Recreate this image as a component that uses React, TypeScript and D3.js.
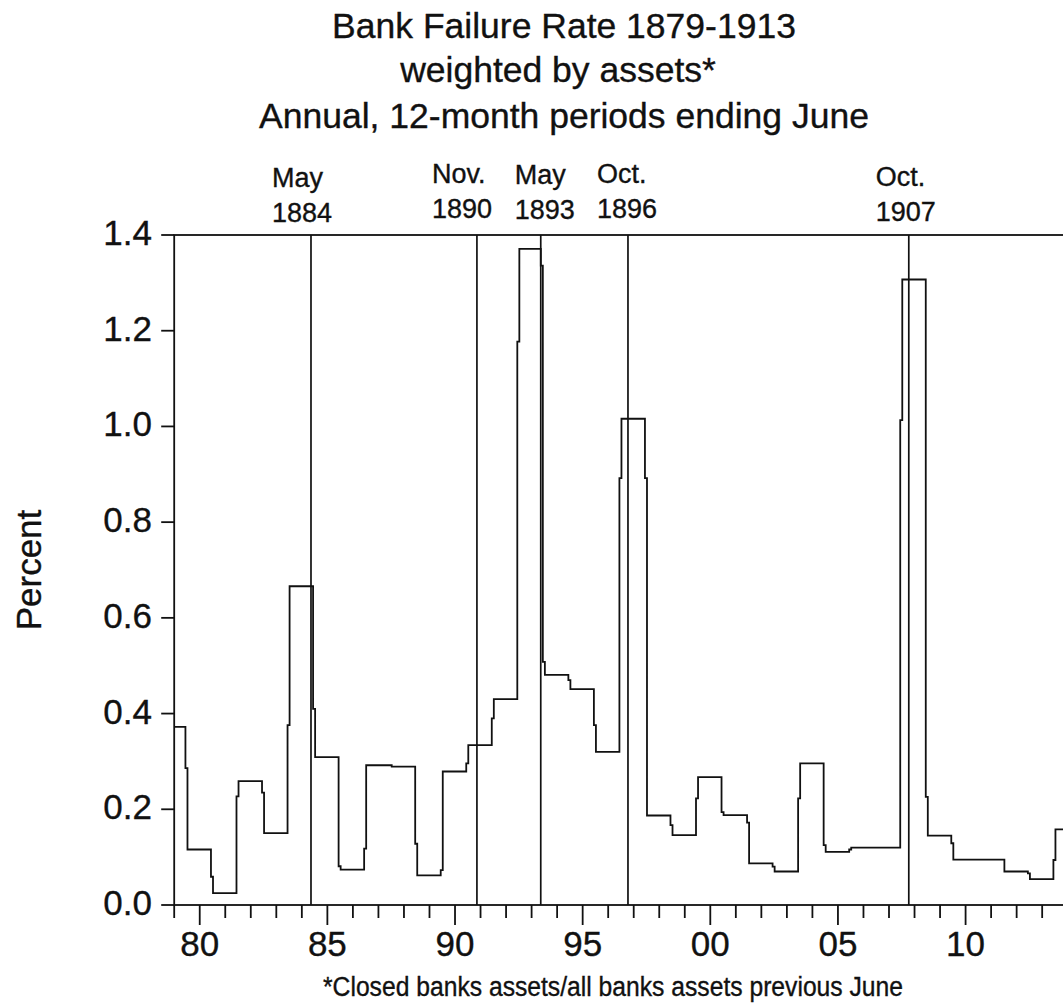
import React from 'react';
import * as d3 from 'd3';

// 12-month periods ending June of the given year
const periodEnd = [
  1879, 1880, 1881, 1882, 1883, 1884, 1885, 1886, 1887, 1888, 1889, 1890,
  1891, 1892, 1893, 1894, 1895, 1896, 1897, 1898, 1899, 1900, 1901, 1902,
  1903, 1904, 1905, 1906, 1907, 1908, 1909, 1910, 1911, 1912, 1913, 1914,
];
// failure rate, percent of assets
const rate = [
  0.372, 0.116, 0.025, 0.259, 0.15, 0.666, 0.309, 0.074, 0.292, 0.289, 0.062, 0.279,
  0.334, 0.43, 1.371, 0.481, 0.451, 0.32, 1.016, 0.187, 0.146, 0.267, 0.188, 0.087,
  0.07, 0.296, 0.111, 0.12, 0.12, 1.307, 0.145, 0.095, 0.095, 0.07, 0.054, 0.158,
];
// transition-month values seen just before each period begins
const transitionMonths: number[][] = [
  [], [0.286], [0.059], [0.227], [0.235], [0.376], [0.41], [0.081], [0.118], [], [0.128], [0.073],
  [0.296], [0.39], [1.177], [1.336, 0.508], [0.47], [0.376], [0.892], [0.892], [0.167], [0.223], [0.194], [0.172],
  [0.08], [0.223], [0.125], [0.116], [], [1.013], [0.226], [0.129], [], [], [0.066], [0.094],
];

const eventYear = [1884, 1890, 1893, 1896, 1907];
const eventMonth = [5, 11, 5, 10, 10];
const eventLabel = ['May', 'Nov.', 'May', 'Oct.', 'Oct.'];

const yTicks = [0, 0.2, 0.4, 0.6, 0.8, 1.0, 1.2, 1.4];
const xDomain = [1879, 1914];

const titleLines = [
  'Bank Failure Rate 1879-1913',
  'weighted by assets*',
  'Annual, 12-month periods ending June',
];
const yAxisTitle = 'Percent';
const footnote = '*Closed banks assets/all banks assets previous June';

// presentation nudges for the event labels
const labelDx = [-39, -45, -26, -31, -33];
const labelDy = [4, 0, 1, 0, 3];

const FONT = "'Liberation Sans', Arial, Helvetica, sans-serif";
const INK = '#111';
const TXT = { fill: INK, stroke: INK, strokeWidth: 0.35 };

export default function App() {
  const W = 1063;
  const H = 1008;
  const x = d3.scaleLinear().domain(xDomain).range([174.2, 1067.7]);
  const y = d3.scaleLinear().domain([0, 1.4]).range([905, 235]);

  const pts: [number, number][] = [[xDomain[0], rate[0]]];
  for (let k = 1; k < rate.length; k++) {
    const led = transitionMonths[k];
    const start = periodEnd[k - 1] + 0.52;
    led.forEach((v, i) => {
      pts.push([start - 0.08 * (led.length - i), v]);
    });
    pts.push([start, rate[k]]);
  }
  pts.push([xDomain[1], rate[rate.length - 1]]);

  const line = d3
    .line<[number, number]>()
    .x((d) => x(d[0]))
    .y((d) => y(d[1]))
    .curve(d3.curveStepAfter);

  const years = d3.range(1879, 1915);
  const x0 = x(xDomain[0]);
  const x1 = x(xDomain[1]);
  const yTop = y(1.4);
  const yBot = y(0);

  return (
    <svg
      width={W}
      height={H}
      style={{ position: 'absolute', left: 0, top: 0, background: '#fff' }}
      fontFamily={FONT}
    >
      <rect x={0} y={0} width={W} height={H} fill="#fff" />
      {/* title */}
      {titleLines.map((t, i) => (
        <text
          key={t}
          x={i === 1 ? 558 : 564}
          y={[38, 82, 128][i]}
          textAnchor="middle"
          fontSize={35.5}
          {...TXT}
        >
          {t}
        </text>
      ))}

      {/* event labels */}
      {eventYear.map((yr, i) => {
        const ex = x(yr + (eventMonth[i] - 0.7) / 12);
        return (
          <g key={i} fontSize={27} {...TXT}>
            <text x={ex + labelDx[i]} y={183 + labelDy[i]}>
              {eventLabel[i]}
            </text>
            <text x={ex + labelDx[i]} y={218 + labelDy[i]}>
              {yr}
            </text>
          </g>
        );
      })}

      {/* frame */}
      <rect
        x={x0}
        y={yTop}
        width={x1 - x0}
        height={yBot - yTop}
        fill="none"
        stroke={INK}
        strokeWidth={1.8}
      />

      {/* event lines */}
      {eventYear.map((yr, i) => {
        const ex = x(yr + (eventMonth[i] - 0.7) / 12);
        return (
          <line key={i} x1={ex} x2={ex} y1={yTop} y2={yBot} stroke={INK} strokeWidth={1.7} />
        );
      })}

      {/* data */}
      <path d={line(pts) || ''} fill="none" stroke={INK} strokeWidth={1.8} />

      {/* y axis */}
      {yTicks.map((t) => (
        <g key={t}>
          <line x1={x0 - 13} x2={x0} y1={y(t)} y2={y(t)} stroke={INK} strokeWidth={1.8} />
          <text x={152} y={y(t) + 10} textAnchor="end" fontSize={35} {...TXT}>
            {t.toFixed(1)}
          </text>
        </g>
      ))}

      {/* x axis */}
      {years.map((yr) => {
        const major = yr % 5 === 0;
        return (
          <g key={yr}>
            <line
              x1={x(yr)}
              x2={x(yr)}
              y1={yBot}
              y2={yBot + (major ? 20 : 13)}
              stroke={INK}
              strokeWidth={1.8}
            />
            {major && (
              <text x={x(yr)} y={956} textAnchor="middle" fontSize={35} {...TXT}>
                {String(yr % 100).padStart(2, '0')}
              </text>
            )}
          </g>
        );
      })}

      {/* y axis title */}
      <text
        transform="translate(41,570) rotate(-90)"
        textAnchor="middle"
        fontSize={35}
        {...TXT}
      >
        {yAxisTitle}
      </text>

      {/* footnote */}
      <text
        x={323}
        y={996}
        fontSize={27}
        {...TXT}
        fontFamily="'Liberation Sans Narrow', 'Liberation Sans', Arial, sans-serif"
        textLength={580}
        lengthAdjust="spacingAndGlyphs"
      >
        {footnote}
      </text>
    </svg>
  );
}
